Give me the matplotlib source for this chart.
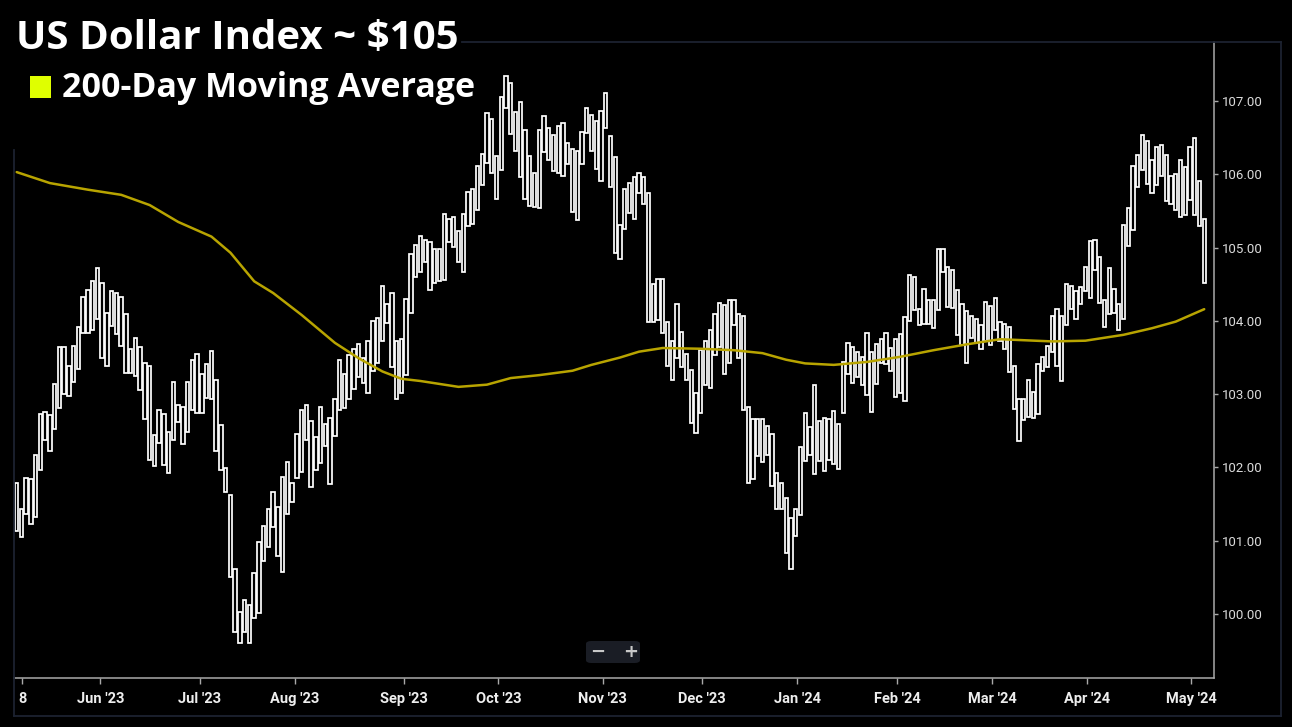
import matplotlib
matplotlib.use("Agg")
import matplotlib.pyplot as plt
from matplotlib.patches import FancyBboxPatch, Rectangle
from matplotlib.lines import Line2D
import numpy as np

# ---------------- data ----------------
bar_high = [
    101.79, 101.44, 101.85, 101.84, 102.17, 102.73, 102.76, 102.71, 103.14, 103.64,
    103.64, 103.38, 103.66, 103.92, 104.32, 104.42, 104.55, 104.72, 104.52, 104.11,
    104.41, 104.38, 104.33, 104.09, 103.61, 103.76, 103.64, 103.42, 103.39, 102.44,
    102.79, 102.73, 102.48, 103.17, 102.85, 102.82, 103.16, 103.47, 103.55, 103.27,
    103.41, 103.59, 103.20, 102.58, 101.99, 101.63, 100.62, 100.03, 100.19, 100.12,
    100.56, 100.99, 101.20, 101.43, 101.67, 101.46, 101.87, 102.07, 101.79, 102.46,
    102.79, 102.85, 102.64, 102.41, 102.82, 102.60, 102.67, 102.93, 103.47, 103.27,
    103.53, 103.61, 103.69, 103.50, 103.73, 104.00, 104.04, 104.47, 104.23, 104.38,
    103.72, 103.75, 104.30, 104.91, 105.04, 105.16, 105.11, 105.07, 104.98, 104.98,
    105.46, 105.39, 105.42, 105.22, 105.46, 105.76, 105.80, 106.11, 106.28, 106.84,
    106.75, 106.25, 107.05, 107.34, 107.25, 106.85, 106.99, 106.60, 106.25, 106.02,
    106.61, 106.79, 106.63, 106.54, 106.66, 106.70, 106.43, 106.35, 106.32, 106.58,
    106.90, 106.81, 106.73, 106.87, 107.11, 106.52, 106.23, 105.31, 105.80, 105.88,
    105.97, 106.02, 105.97, 105.74, 104.51, 104.57, 104.57, 103.98, 103.73, 104.23,
    103.85, 103.55, 103.33, 103.02, 103.60, 103.73, 103.88, 104.10, 104.25, 104.22,
    104.29, 104.29, 104.10, 104.06, 102.82, 102.66, 102.66, 102.66, 102.57, 102.46,
    101.92, 101.79, 101.59, 101.31, 101.44, 102.28, 102.74, 102.55, 103.13, 102.64,
    102.67, 102.66, 102.77, 102.60, 103.44, 103.70, 103.65, 103.57, 103.51, 103.83,
    103.57, 103.69, 103.75, 103.83, 103.63, 103.75, 103.82, 104.05, 104.63, 104.60,
    104.16, 104.44, 104.28, 104.29, 104.98, 104.98, 104.73, 104.69, 104.42, 104.23,
    104.14, 104.07, 104.02, 103.94, 104.26, 104.20, 104.31, 103.98, 103.96, 103.91,
    103.38, 102.93, 102.94, 103.19, 103.03, 103.41, 103.51, 103.66, 104.07, 104.16,
    104.07, 104.51, 104.48, 104.41, 104.46, 104.74, 105.09, 105.11, 104.87, 104.29,
    104.72, 104.44, 104.23, 105.31, 105.54, 106.11, 106.26, 106.54, 106.46, 106.20,
    106.37, 106.40, 106.26, 105.98, 106.00, 106.20, 106.10, 106.37, 106.50, 105.91,
    105.39,
]

bar_low = [
    101.14, 101.05, 101.37, 101.23, 101.32, 101.96, 102.38, 102.22, 102.53, 102.81,
    103.00, 102.97, 103.16, 103.35, 103.84, 103.84, 103.88, 104.02, 103.50, 103.38,
    103.93, 103.82, 103.66, 103.29, 103.29, 103.25, 103.06, 102.66, 102.10, 102.02,
    102.33, 102.03, 101.93, 102.37, 102.62, 102.32, 102.48, 102.78, 102.75, 102.75,
    102.95, 102.94, 102.22, 101.96, 101.66, 100.51, 99.76, 99.60, 99.76, 99.60,
    99.94, 100.02, 100.73, 100.91, 101.19, 100.79, 100.57, 101.37, 101.53, 101.85,
    101.94, 102.37, 101.74, 101.97, 102.06, 102.29, 101.78, 102.43, 102.78, 102.81,
    102.94, 103.07, 103.23, 103.15, 103.02, 103.31, 103.42, 103.73, 103.97, 103.37,
    102.94, 103.01, 103.26, 104.11, 104.60, 104.67, 104.81, 104.42, 104.52, 104.55,
    104.56, 105.07, 105.01, 104.81, 104.67, 105.29, 105.32, 105.51, 105.85, 106.16,
    106.02, 105.66, 106.06, 106.90, 106.55, 106.32, 105.97, 105.66, 105.57, 105.56,
    105.54, 106.30, 106.20, 106.04, 106.02, 105.98, 106.14, 105.49, 105.37, 106.14,
    106.57, 106.32, 106.07, 105.91, 106.63, 105.82, 104.93, 104.84, 105.26, 105.47,
    105.39, 105.75, 105.60, 103.99, 103.99, 104.01, 103.84, 103.39, 103.19, 103.49,
    103.37, 103.19, 102.61, 102.47, 102.74, 103.13, 103.08, 103.54, 103.65, 103.27,
    103.43, 103.94, 103.49, 102.79, 101.79, 101.84, 102.16, 102.07, 102.17, 101.75,
    101.44, 101.44, 100.84, 100.62, 101.07, 101.35, 102.09, 102.17, 101.91, 102.09,
    101.95, 102.10, 102.05, 101.98, 102.74, 103.28, 103.15, 103.24, 103.13, 102.99,
    102.76, 103.14, 103.43, 103.41, 103.31, 102.96, 103.01, 102.91, 104.00, 104.15,
    103.94, 103.96, 103.96, 103.90, 104.15, 104.67, 104.19, 104.17, 103.81, 103.67,
    103.43, 103.76, 103.70, 103.61, 103.72, 103.67, 103.88, 103.73, 103.61, 103.30,
    102.80, 102.36, 102.65, 102.69, 102.68, 102.73, 103.32, 103.37, 103.58, 103.39,
    103.18, 103.95, 104.16, 104.03, 104.23, 104.41, 104.31, 104.69, 104.24, 103.92,
    104.10, 104.11, 103.88, 104.02, 105.02, 105.24, 105.83, 106.06, 105.87, 105.75,
    105.85, 105.98, 105.63, 105.60, 105.51, 105.42, 105.44, 105.65, 105.44, 105.29,
    104.52,
]

ma_day = [0, 7, 15, 22, 28, 34, 41, 45, 50, 54, 60, 67, 72, 77, 81, 85, 93, 99,
          104, 110, 117, 121, 124, 127, 131, 136, 144, 151, 157, 162, 166, 172,
          179, 186, 193, 200, 207, 218, 225, 233, 239, 244, 250]
ma_value = [106.03, 105.88, 105.79, 105.72, 105.58, 105.35, 105.15, 104.93, 104.54,
            104.38, 104.08, 103.70, 103.49, 103.31, 103.21, 103.18, 103.10, 103.13,
            103.22, 103.26, 103.32, 103.40, 103.45, 103.50, 103.58, 103.63, 103.62,
            103.60, 103.56, 103.47, 103.42, 103.40, 103.44, 103.51, 103.60, 103.68,
            103.75, 103.72, 103.73, 103.81, 103.90, 103.99, 104.16]

x_tick_pos = [1.2, 17.6, 38.5, 58.5, 81.5, 101.4, 123.4, 144.2, 164.3, 185.3,
              205.3, 225.3, 247.2]
x_tick_labels = ["8", "Jun '23", "Jul '23", "Aug '23", "Sep '23", "Oct '23",
                 "Nov '23", "Dec '23", "Jan '24", "Feb '24", "Mar '24",
                 "Apr '24", "May '24"]
y_ticks = [100, 101, 102, 103, 104, 105, 106, 107]

title_text = "US Dollar Index ~ $105"
legend_text = "200-Day Moving Average"

# ---------------- figure ----------------
W, H = 1292, 727
fig = plt.figure(figsize=(W / 100, H / 100), dpi=100, facecolor="black")


def fx(px):
    return px / W


def fy(py):
    return 1 - py / H


frame_col = "#1c2230"
# outer frame
for (x0, y0, x1, y1) in [(462, 42, 1281, 42), (1281, 42, 1281, 716),
                         (14, 716, 1281, 716), (14, 150, 14, 716)]:
    fig.add_artist(Line2D([fx(x0), fx(x1)], [fy(y0), fy(y1)],
                          transform=fig.transFigure, color=frame_col, lw=1.3))

ax = fig.add_axes([fx(14), fy(678), fx(1214) - fx(14), fy(42) - fy(678)])
ax.set_facecolor("black")

xs = np.arange(len(bar_high))
hi = np.array(bar_high)
lo = np.array(bar_low)
ax.bar(xs, hi - lo, bottom=lo, width=0.72, color="black",
       edgecolor="white", linewidth=1.25, zorder=3)
ax.plot(ma_day, ma_value, color="#b8a400", lw=1.8, zorder=4,
        solid_capstyle="round", solid_joinstyle="round")

ax.set_xlim(-0.57, 252.06)
ax.set_ylim(99.128, 107.805)

for s in ["left", "top"]:
    ax.spines[s].set_visible(False)
for s in ["bottom", "right"]:
    ax.spines[s].set_color("#a9a9a9")
    ax.spines[s].set_linewidth(1.1)

ax.yaxis.tick_right()
ax.set_yticks(y_ticks)
ax.set_yticklabels([f"{v:.2f}" for v in y_ticks])
ax.tick_params(axis="y", direction="out", length=3, width=1, color="#a9a9a9",
               labelcolor="#dcdcdc", labelsize=9.5, pad=3)
ax.set_xticks(x_tick_pos)
ax.set_xticklabels(x_tick_labels)
ax.tick_params(axis="x", direction="out", length=4, width=1, color="#a9a9a9",
               labelcolor="#eeeeee", labelsize=10.5, pad=6)
for lab in ax.get_yticklabels():
    lab.set_fontfamily(["Roboto", "DejaVu Sans"])
for lab in ax.get_xticklabels():
    lab.set_fontfamily(["Roboto", "DejaVu Sans"])
    lab.set_fontweight("bold")

# zoom control
fig.add_artist(FancyBboxPatch((fx(586), fy(663)), fx(640) - fx(586), fy(641) - fy(663),
                              boxstyle="round,pad=0,rounding_size=0.004",
                              transform=fig.transFigure, facecolor="#1a1d25",
                              edgecolor="none"))
fig.text(fx(598), fy(652), "\u2212", color="#c8c8c8", fontsize=13,
         fontweight="bold", ha="center", va="center")
fig.text(fx(631), fy(652), "+", color="#c8c8c8", fontsize=13,
         fontweight="bold", ha="center", va="center")

# title and legend
fig.text(fx(16), fy(49), title_text, color="white", fontsize=29,
         fontweight="bold", family=["Open Sans", "DejaVu Sans"],
         ha="left", va="baseline")
fig.add_artist(Rectangle((fx(30), fy(98)), fx(51) - fx(30), fy(76) - fy(98),
                         transform=fig.transFigure, facecolor="#dfff00",
                         edgecolor="none"))
fig.text(fx(62), fy(97), legend_text, color="white", fontsize=24.5,
         fontweight="bold", family=["Open Sans", "DejaVu Sans"],
         ha="left", va="baseline")

fig.savefig("out.png", dpi=100, facecolor="black")
